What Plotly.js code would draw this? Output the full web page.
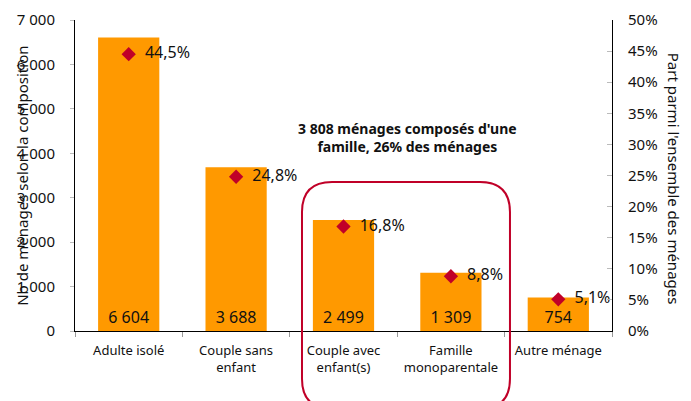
<!DOCTYPE html>
<html>
<head>
<meta charset="utf-8">
<script src="https://cdn.plot.ly/plotly-3.0.1.min.js"></script>
<style>
  body { margin: 0; background: #fff; }
  #chart { width: 691px; height: 401px; }
</style>
</head>
<body>
<div id="chart"></div>
<script>
const categories = ['Adulte isolé', 'Couple sans<br>enfant', 'Couple avec<br>enfant(s)', 'Famille<br>monoparentale', 'Autre ménage'];
const households = [6604, 3688, 2499, 1309, 754];
const shares = [44.5, 24.8, 16.8, 8.8, 5.1];

const FONT = 'Noto Sans, Open Sans, sans-serif';

// rounded frame around the "famille" group, in paper coords
const x0 = 0.4227, x1 = 0.81, y0 = -0.25, y1 = 0.479, rx = 0.056, ry = 0.0965;
const framePath = `M ${x0},${y1 - ry} L ${x0},${y0 + ry} Q ${x0},${y0} ${x0 + rx},${y0} ` +
  `L ${x1 - rx},${y0} Q ${x1},${y0} ${x1},${y0 + ry} L ${x1},${y1 - ry} ` +
  `Q ${x1},${y1} ${x1 - rx},${y1} L ${x0 + rx},${y1} Q ${x0},${y1} ${x0},${y1 - ry} Z`;

const data = [
  {
    type: 'bar',
    x: categories,
    y: households,
    marker: {color: '#FF9900'},
    texttemplate: '%{y:,}',
    textposition: 'inside',
    insidetextanchor: 'start',
    textangle: 0,
    textfont: {family: FONT, size: 16, color: '#111'},
    hoverinfo: 'skip'
  },
  {
    type: 'scatter',
    mode: 'markers+text',
    x: categories,
    y: shares,
    yaxis: 'y2',
    marker: {symbol: 'diamond', size: 11, color: '#C00028'},
    texttemplate: '\u00a0\u00a0%{y:.1f}%',
    textposition: 'middle right',
    textfont: {family: FONT, size: 16, color: '#111'},
    cliponaxis: false,
    hoverinfo: 'skip'
  }
];

const layout = {
  width: 691,
  height: 401,
  margin: {l: 75, r: 79, t: 20, b: 70},
  showlegend: false,
  separators: ', ',
  bargap: 0.43,
  font: {family: FONT, size: 13, color: '#111'},
  paper_bgcolor: '#fff',
  plot_bgcolor: '#fff',
  xaxis: {
    showline: true, linecolor: '#000', linewidth: 1,
    ticks: 'outside', tickson: 'boundaries', ticklen: 5, tickcolor: '#999',
    showgrid: false, tickfont: {size: 13}, tickangle: 0, ticklabelstandoff: 7
  },
  yaxis: {
    range: [0, 7000], dtick: 1000, tickformat: ',d',
    showline: true, linecolor: '#000', linewidth: 1,
    ticks: 'outside', ticklen: 4, tickcolor: '#bbb',
    showgrid: false, zeroline: false,
    tickfont: {size: 15}, ticklabelstandoff: 12
  },
  yaxis2: {
    overlaying: 'y', side: 'right',
    range: [0, 50], dtick: 5, ticksuffix: '%',
    showline: true, linecolor: '#000', linewidth: 1,
    ticks: 'inside', ticklen: 5, tickcolor: '#bbb',
    showgrid: false, zeroline: false,
    tickfont: {size: 15}, ticklabelstandoff: 12
  },
  shapes: [{
    type: 'path', xref: 'paper', yref: 'paper',
    path: framePath,
    line: {color: '#C00028', width: 2}
  }],
  annotations: [
    {
      xref: 'paper', yref: 'paper', x: 0.62, y: 0.688,
      text: "<b>3 808 ménages composés d'une<br>famille, 26% des ménages</b>",
      showarrow: false, font: {size: 14, color: '#111'}, align: 'center'
    },
    {
      xref: 'paper', yref: 'paper', x: -0.1, y: 0.5, xanchor: 'center', yanchor: 'middle',
      text: 'Nb de ménages selon la composition',
      textangle: -90, showarrow: false, font: {size: 15, color: '#111'}
    },
    {
      xref: 'paper', yref: 'paper', x: 1.117, y: 0.49, xanchor: 'center', yanchor: 'middle',
      text: "Part parmi l'ensemble des ménages",
      textangle: 90, showarrow: false, font: {size: 15, color: '#111'}
    }
  ]
};

Plotly.newPlot('chart', data, layout, {displayModeBar: false, staticPlot: true});
</script>
</body>
</html>
